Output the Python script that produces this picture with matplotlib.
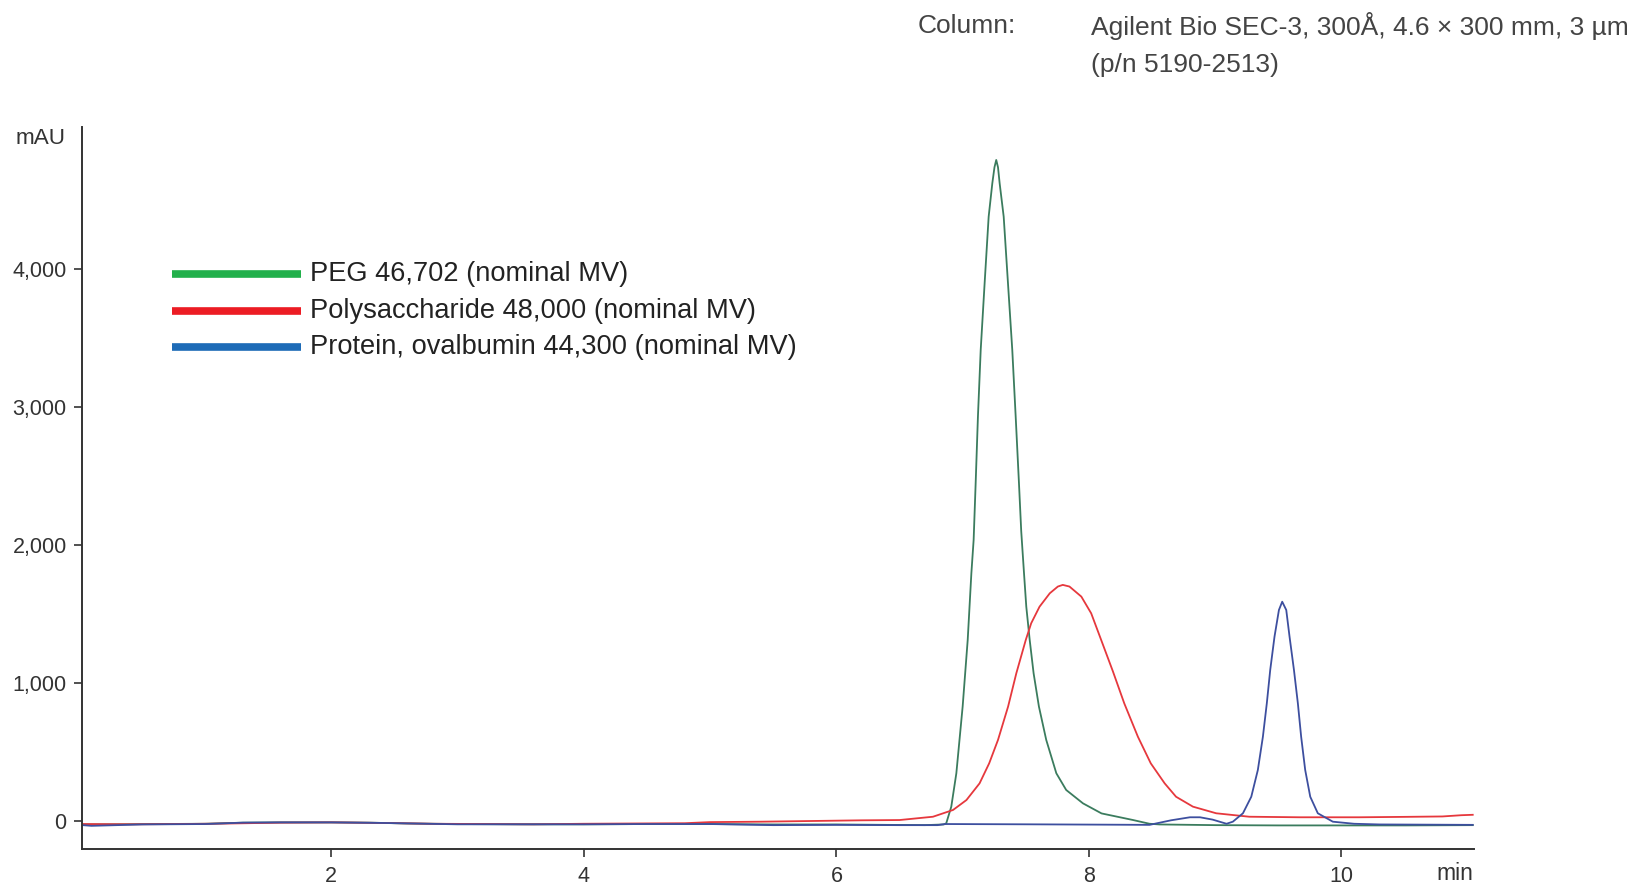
import matplotlib
matplotlib.use("Agg")
import matplotlib.pyplot as plt
from matplotlib.lines import Line2D

# Chromatogram traces: retention time (min) and absorbance (mAU)
peg_time = [0.03, 0.3, 0.6, 1.0, 1.3, 1.6, 2.0, 2.3, 2.6, 3.0, 3.5, 4.0, 4.5, 5.0, 5.5,
            6.0, 6.4, 6.7, 6.85, 6.87, 6.91, 6.95, 7.00, 7.04, 7.069, 7.087, 7.103,
            7.121, 7.143, 7.174, 7.206, 7.235, 7.252, 7.266, 7.28, 7.293, 7.325, 7.359,
            7.393, 7.42, 7.446, 7.464, 7.486, 7.504, 7.531, 7.562, 7.604, 7.662, 7.742,
            7.82, 7.953, 8.10, 8.35, 8.48, 8.56, 9.0, 9.5, 10.0, 10.5, 11.04]
peg_mau = [-25, -24, -22, -20, -12, -10, -10, -12, -18, -22, -24, -24, -22, -22, -25,
           -25, -28, -30, -25, -17, 104, 346, 830, 1313, 1796, 2038, 2449,
           2932, 3416, 3899, 4382, 4624, 4740, 4793, 4740, 4624, 4382, 3899,
           3416, 2932, 2449, 2100, 1796, 1554, 1313, 1071, 830, 588, 346,
           225, 128, 55, 7, -20, -25, -30, -32, -32, -32, -30]

poly_time = [0.03, 0.4, 0.8, 1.2, 1.6, 2.0, 2.4, 2.8, 3.2, 3.6, 4.0, 4.4, 4.8, 5.0,
             5.4, 5.8, 6.2, 6.5, 6.765, 6.924, 7.03, 7.134, 7.21, 7.28, 7.36, 7.425,
             7.50, 7.543, 7.609, 7.69, 7.754, 7.793, 7.846, 7.94, 8.018, 8.09, 8.19,
             8.28, 8.388, 8.49, 8.60, 8.69, 8.824, 9.008, 9.27, 9.67, 10.14, 10.5,
             10.8, 10.95, 11.04]
poly_mau = [-22, -24, -22, -18, -12, -10, -14, -20, -22, -24, -20, -18, -16, -8,
            -5, 0, 5, 7, 31, 80, 152, 273, 418, 588, 830, 1071,
            1313, 1434, 1554, 1651, 1700, 1712, 1700, 1627, 1506, 1330, 1085,
            853, 611, 418, 273, 176, 104, 56, 31, 27, 27, 30,
            33, 42, 45]

prot_time = [0.03, 0.1, 0.5, 1.0, 1.3, 1.6, 2.0, 2.4, 3.0, 3.5, 4.0, 4.5, 5.0, 5.5,
             6.0, 6.5, 6.8, 6.86, 7.5, 8.0, 8.48, 8.65, 8.80, 8.88, 8.98, 9.09, 9.14,
             9.22, 9.286, 9.338, 9.378, 9.409, 9.436, 9.470, 9.505, 9.531, 9.563,
             9.589, 9.624, 9.655, 9.681, 9.713, 9.753, 9.813, 9.932, 10.1, 10.3, 11.04]
prot_mau = [-30, -35, -25, -22, -12, -10, -10, -14, -24, -24, -24, -22, -22, -30,
            -28, -30, -30, -22, -24, -26, -28, 5, 27, 27, 10, -20, -5,
            56, 176, 370, 611, 853, 1095, 1337, 1530, 1590, 1530,
            1337, 1095, 853, 611, 370, 176, 56, -5, -20, -25, -28]

legend_labels = ["PEG 46,702 (nominal MV)",
                 "Polysaccharide 48,000 (nominal MV)",
                 "Protein, ovalbumin 44,300 (nominal MV)"]
trace_colors = ["#3b7c5e", "#e6383d", "#3d4f9f"]
legend_colors = ["#22b04b", "#ec1c24", "#1d6bb7"]

x_ticks = [2, 4, 6, 8, 10]
y_ticks = [0, 1000, 2000, 3000, 4000]
y_tick_labels = ["0", "1,000", "2,000", "3,000", "4,000"]

plt.rcParams["font.family"] = ["Liberation Sans", "DejaVu Sans"]

W, H = 1640, 886
fig = plt.figure(figsize=(W / 100, H / 100), dpi=100)
fig.patch.set_facecolor("white")


def fpos(x, y):
    return x / W, 1 - y / H


ax = fig.add_axes([82 / W, 1 - 849 / H, (1474 - 82) / W, (849 - 127) / H])

for t, v, c in zip([peg_time, poly_time, prot_time],
                   [peg_mau, poly_mau, prot_mau], trace_colors):
    ax.plot(t, v, color=c, lw=1.3, solid_joinstyle="round")

ax.set_xlim(0.025, 11.05)
ax.set_ylim(-203, 5032)
ax.set_xticks(x_ticks)
ax.set_yticks(y_ticks)
ax.set_yticklabels(y_tick_labels)

for side in ("top", "right"):
    ax.spines[side].set_visible(False)
for side in ("left", "bottom"):
    ax.spines[side].set_color("#333333")
    ax.spines[side].set_linewidth(1.4)

ax.tick_params(axis="y", direction="out", length=6, width=1.2, pad=5,
               labelsize=15.5, colors="#333333")
ax.tick_params(axis="x", direction="out", length=6, width=1.2, pad=6,
               labelsize=15.5, colors="#333333")

# Axis unit labels
x, y = fpos(66, 139)
fig.text(x, y, "mAU", ha="right", va="center", fontsize=16.2, color="#333333")
x, y = fpos(1473, 873)
fig.text(x, y, "min", ha="right", va="center", fontsize=16.5, color="#333333")

# Legend swatches and labels
for i, (lab, col) in enumerate(zip(legend_labels, legend_colors)):
    ly = 274 + i * 36.5
    x0, y0 = fpos(172, ly)
    x1, _ = fpos(301, ly)
    fig.add_artist(Line2D([x0, x1], [y0, y0], transform=fig.transFigure,
                          color=col, lw=5.5, solid_capstyle="butt"))
    tx, ty = fpos(310, ly)
    fig.text(tx, ty, lab, ha="left", va="center", fontsize=19.6, color="#222222")

# Column description
hdr = dict(fontsize=19, color="#444444")
x, y = fpos(918, 26)
fig.text(x, y, "Column:", ha="left", va="center", **hdr)
x, y = fpos(1091, 26)
fig.text(x, y, "Agilent Bio SEC-3, 300Å, 4.6 × 300 mm, 3 µm", ha="left", va="center", **hdr)
x, y = fpos(1091, 65)
fig.text(x, y, "(p/n 5190-2513)", ha="left", va="center", **hdr)

fig.savefig("out.png", dpi=100, facecolor="white")
